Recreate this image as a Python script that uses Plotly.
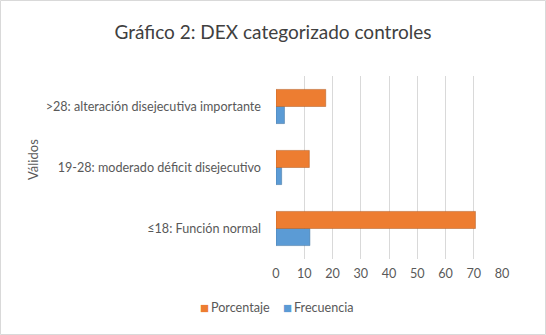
import plotly.graph_objects as go

categories = ["≤18: Función normal", "19-28: moderado déficit disejecutivo", ">28: alteración disejecutiva importante"]
frecuencia = [12, 2, 3]
porcentaje = [70.6, 11.8, 17.6]
x_ticks = [0, 10, 20, 30, 40, 50, 60, 70, 80]

fig = go.Figure()
fig.add_trace(go.Bar(y=categories, x=frecuencia, orientation="h", name="Frecuencia",
                     marker=dict(color="#5B9BD5", line=dict(color="#41719C", width=0.5))))
fig.add_trace(go.Bar(y=categories, x=porcentaje, orientation="h", name="Porcentaje",
                     marker=dict(color="#ED7D31", line=dict(color="#AE5A21", width=0.5))))

font_color = "#595959"
W, H = 546, 335
L, R, T, B = 276, 44, 76, 76
pw, ph = W - L - R, H - T - B

def px(x):
    return (x - L) / pw

def py(y):
    return (H - B - y) / ph

fig.update_layout(
    width=W, height=H,
    margin=dict(l=L, r=R, t=T, b=B, autoexpand=False),
    paper_bgcolor="white", plot_bgcolor="white",
    font=dict(family="Lato", size=12.6, color=font_color),
    title=dict(text="Gráfico 2: DEX categorizado controles", x=0.5, xanchor="center",
               y=1 - 32 / H, yanchor="middle",
               font=dict(family="Lato", size=19, color="#404040")),
    barmode="group", bargap=0.44, bargroupgap=0,
    showlegend=False,
    xaxis=dict(range=[0, 80], tickvals=x_ticks, showgrid=True, gridcolor="#D9D9D9",
               gridwidth=1, zeroline=False, showline=False, ticks="",
               ticklabelstandoff=5,
               tickfont=dict(size=12.6, color=font_color), fixedrange=True),
    yaxis=dict(categoryorder="array", categoryarray=categories, showgrid=False,
               zeroline=False, showline=False, ticks="", ticklabelstandoff=14,
               tickfont=dict(size=12.6, color=font_color)),
)

fig.add_annotation(text="Válidos", textangle=-90, xref="paper", yref="paper",
                   x=px(33), y=py(160), showarrow=False,
                   xanchor="center", yanchor="middle",
                   font=dict(size=13, color=font_color))

# legend drawn as text items
legend_items = [("Porcentaje", "#ED7D31", 198), ("Frecuencia", "#5B9BD5", 281)]
for name, color, x0 in legend_items:
    fig.add_annotation(text="■", xref="paper", yref="paper", x=px(x0), y=py(307),
                       showarrow=False, xanchor="left", yanchor="middle",
                       font=dict(size=15, color=color))
    fig.add_annotation(text=name, xref="paper", yref="paper", x=px(x0 + 11), y=py(307),
                       showarrow=False, xanchor="left", yanchor="middle",
                       font=dict(size=12.6, color=font_color))

fig.add_shape(type="rect", xref="paper", yref="paper",
              x0=px(0.5), x1=px(W - 0.5), y0=py(H - 0.5), y1=py(0.5),
              line=dict(color="#D9D9D9", width=1), layer="below")

fig.write_html("out.html")
